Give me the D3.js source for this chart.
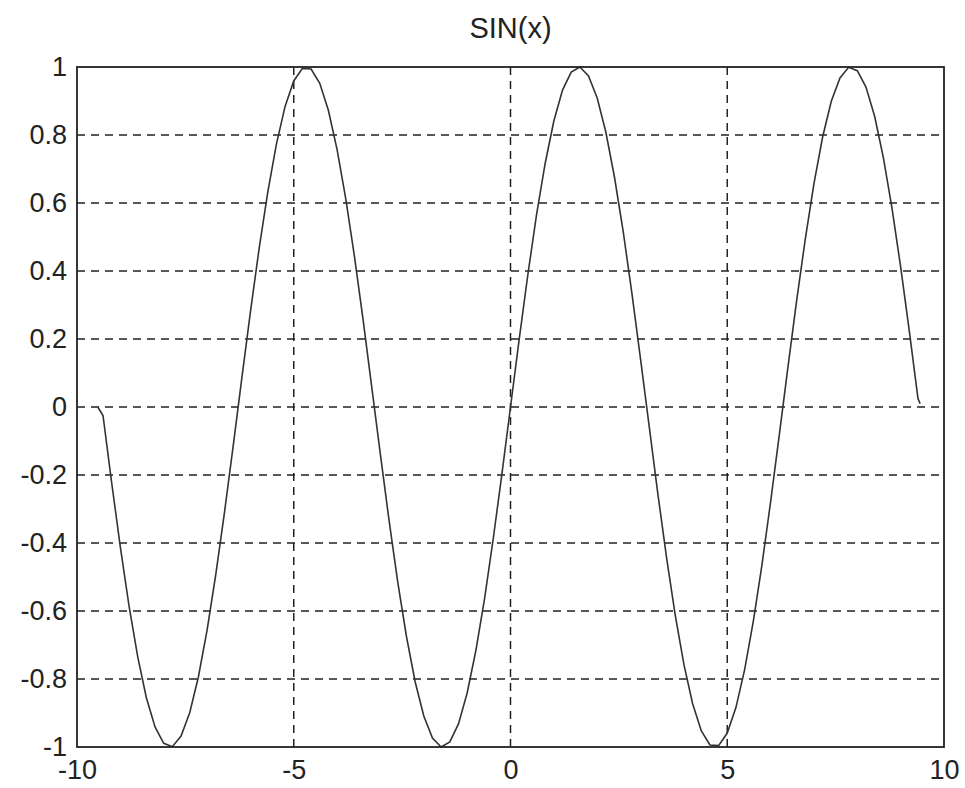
<!DOCTYPE html>
<html>
<head>
<meta charset="utf-8">
<script src="https://cdn.jsdelivr.net/npm/d3@7"></script>
<style>
  body { margin: 0; background: #fff; }
  .chart text { font-family: "Liberation Sans", Arial, sans-serif; fill: #222; }
</style>
</head>
<body>
<div id="app"><svg class="chart"></svg></div>
<script>
//======
// Data
//======

var title = "SIN(x)";

var xTicks = [-10, -5, 0, 5, 10];
var yTicks = [-1, -0.8, -0.6, -0.4, -0.2, 0, 0.2, 0.4, 0.6, 0.8, 1];
var yTickLabels = ["-1", "-0.8", "-0.6", "-0.4", "-0.2", "0", "0.2", "0.4", "0.6", "0.8", "1"];

// x positions of the samples
var xs = [-9.52, -9.4, -9.2, -9.0, -8.8, -8.6, -8.4, -8.2, -8.0, -7.8, -7.6, -7.4, -7.2, -7.0,
  -6.8, -6.6, -6.4, -6.2, -6.0, -5.8, -5.6, -5.4, -5.2, -5.0, -4.8, -4.6, -4.4, -4.2, -4.0,
  -3.8, -3.6, -3.4, -3.2, -3.0, -2.8, -2.6, -2.4, -2.2, -2.0, -1.8, -1.6, -1.4, -1.2, -1.0,
  -0.8, -0.6, -0.4, -0.2, 0.0, 0.2, 0.4, 0.6, 0.8, 1.0, 1.2, 1.4, 1.6, 1.8, 2.0, 2.2, 2.4,
  2.6, 2.8, 3.0, 3.2, 3.4, 3.6, 3.8, 4.0, 4.2, 4.4, 4.6, 4.8, 5.0, 5.2, 5.4, 5.6, 5.8, 6.0,
  6.2, 6.4, 6.6, 6.8, 7.0, 7.2, 7.4, 7.6, 7.8, 8.0, 8.2, 8.4, 8.6, 8.8, 9.0, 9.2, 9.4, 9.45];

// matching y values
var ys = [0, -0.025, -0.223, -0.412, -0.585, -0.734, -0.855, -0.941, -0.989, -0.999, -0.968, -0.899, -0.794, -0.657,
  -0.494, -0.312, -0.117, 0.083, 0.279, 0.465, 0.631, 0.773, 0.884, 0.959, 0.996, 0.994, 0.952, 0.872, 0.757,
  0.612, 0.443, 0.256, 0.058, -0.141, -0.335, -0.516, -0.675, -0.808, -0.909, -0.974, -1.0, -0.985, -0.932, -0.841,
  -0.717, -0.565, -0.389, -0.199, 0, 0.199, 0.389, 0.565, 0.717, 0.841, 0.932, 0.985, 1.0, 0.974, 0.909, 0.808, 0.675,
  0.516, 0.335, 0.141, -0.058, -0.256, -0.443, -0.612, -0.757, -0.872, -0.952, -0.994, -0.996, -0.959, -0.884, -0.773, -0.631, -0.465, -0.279,
  -0.083, 0.117, 0.312, 0.494, 0.657, 0.794, 0.899, 0.968, 0.999, 0.989, 0.941, 0.855, 0.734, 0.585, 0.412, 0.223, 0.025, 0.01];

//====
// D3
//====

function buildChart() {
  var width = 965,
    height = 788,
    left = 77,
    right = 944,
    top = 67,
    bottom = 747;

  var svg = d3.select(".chart")
    .attr("width", width)
    .attr("height", height);

  var x = d3.scaleLinear().domain([-10, 10]).range([left, right]);
  var y = d3.scaleLinear().domain([-1, 1]).range([bottom, top]);

  // grid lines (dashed), skipping the ones on the frame
  svg.append("g").selectAll("line")
    .data(xTicks.filter(function(d) { return d > -10 && d < 10; }))
    .enter().append("line")
    .attr("x1", function(d) { return x(d); })
    .attr("x2", function(d) { return x(d); })
    .attr("y1", top)
    .attr("y2", bottom)
    .attr("stroke", "#222")
    .attr("stroke-width", 1.5)
    .attr("stroke-dasharray", "8,6");

  svg.append("g").selectAll("line")
    .data(yTicks.filter(function(d) { return d > -1 && d < 1; }))
    .enter().append("line")
    .attr("x1", left)
    .attr("x2", right)
    .attr("y1", function(d) { return y(d); })
    .attr("y2", function(d) { return y(d); })
    .attr("stroke", "#222")
    .attr("stroke-width", 1.5)
    .attr("stroke-dasharray", "8,6");

  // the curve
  var pts = xs.map(function(d, i) { return [d, ys[i]]; });
  var line = d3.line()
    .x(function(d) { return x(d[0]); })
    .y(function(d) { return y(d[1]); });

  svg.append("path")
    .datum(pts)
    .attr("d", line)
    .attr("fill", "none")
    .attr("stroke", "#333")
    .attr("stroke-width", 1.6);

  // frame
  svg.append("rect")
    .attr("x", left)
    .attr("y", top)
    .attr("width", right - left)
    .attr("height", bottom - top)
    .attr("fill", "none")
    .attr("stroke", "#222")
    .attr("stroke-width", 1.8);

  // axes (labels only, MATLAB style)
  var xAxis = svg.append("g")
    .attr("transform", "translate(0," + bottom + ")")
    .call(d3.axisBottom(x).tickValues(xTicks).tickSize(0).tickPadding(13)
      .tickFormat(function(d) { return d; }));
  xAxis.select(".domain").remove();
  xAxis.selectAll("text").style("font-size", "27px").attr("fill", "#222");

  var yAxis = svg.append("g")
    .attr("transform", "translate(" + left + ",0)")
    .call(d3.axisLeft(y).tickValues(yTicks).tickSize(0).tickPadding(10)
      .tickFormat(function(d, i) { return yTickLabels[i]; }));
  yAxis.select(".domain").remove();
  yAxis.selectAll("text").style("font-size", "27px").attr("fill", "#222");

  // title
  svg.append("text")
    .attr("x", x(0))
    .attr("y", 38)
    .attr("text-anchor", "middle")
    .style("font-size", "29px")
    .text(title);
}

buildChart();
</script>
</body>
</html>
